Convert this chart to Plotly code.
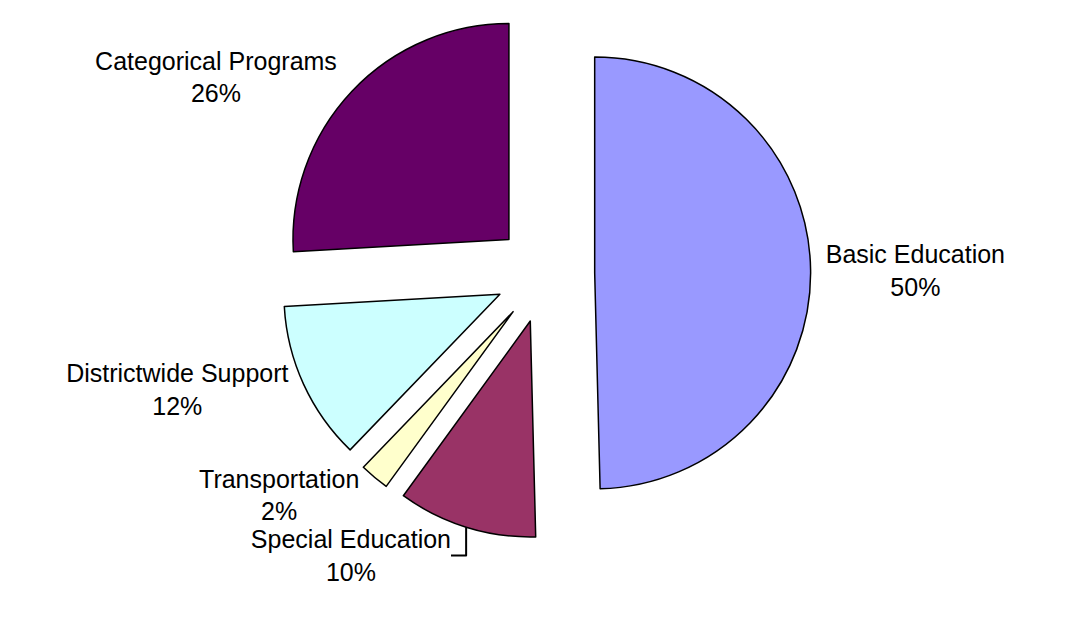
import plotly.graph_objects as go

categories = ["Basic Education", "Special Education", "Transportation",
              "Districtwide Support", "Categorical Programs"]
values = [49.6, 10.4, 2.2, 11.9, 25.9]
colors = ["#9999FF", "#993366", "#FFFFCC", "#CCFFFF", "#660066"]
pulls = [0.23, 0.23, 0.23, 0.23, 0.23]

fig = go.Figure(go.Pie(
    labels=categories,
    values=values,
    sort=False,
    direction="clockwise",
    rotation=0,
    pull=pulls,
    marker=dict(colors=colors, line=dict(color="black", width=1.5)),
    textposition="outside",
    automargin=False,
    texttemplate="%{label}<br>%{percent:.0%}",
    textfont=dict(family="Liberation Sans, Arial, sans-serif", size=25, color="black"),
    domain=dict(x=[0.0085, 1.0], y=[0.17, 1.0]),
    showlegend=False,
    hoverinfo="label+percent",
))

fig.update_layout(
    width=1065, height=640,
    margin=dict(l=0, r=0, t=0, b=0, autoexpand=False),
    paper_bgcolor="white",
    plot_bgcolor="white",
    font=dict(family="Liberation Sans, Arial, sans-serif", color="black"),
)

fig.write_html("out.html")
